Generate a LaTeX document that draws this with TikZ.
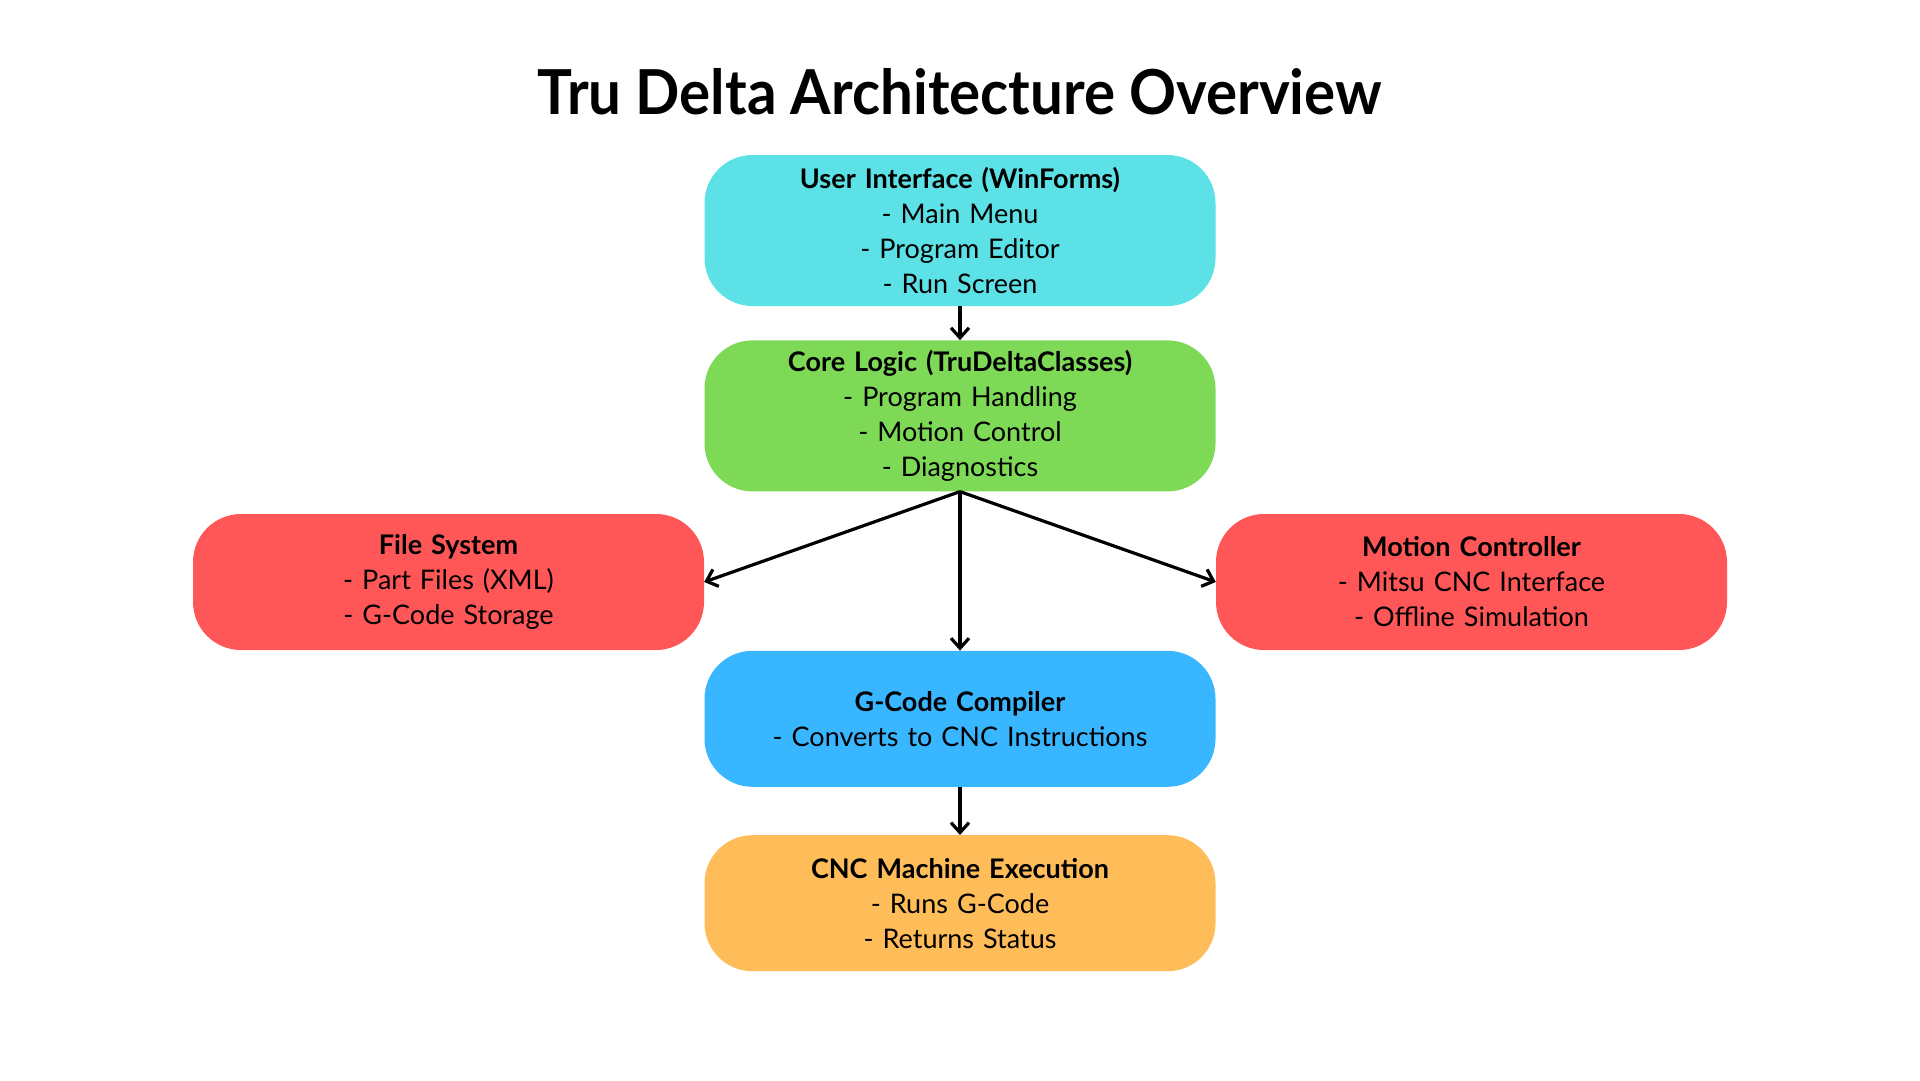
\documentclass[tikz,border=0pt]{standalone}
\usepackage{fontspec}
\setmainfont{Lato}
\usetikzlibrary{arrows.meta,positioning}
\definecolor{uicyan}{HTML}{5CE1E6}
\definecolor{coregreen}{HTML}{7ED957}
\definecolor{sysred}{HTML}{FF5757}
\definecolor{compblue}{HTML}{38B6FF}
\definecolor{execorange}{HTML}{FFBD59}

\begin{document}
\begin{tikzpicture}[x=1pt, y=-1pt]
    \tikzstyle{block} = [rectangle, rounded corners=48pt, minimum width=511pt, text width=480pt, align=center, font=\fontsize{27}{35}\selectfont, inner sep=0pt]
    \tikzstyle{tall} = [block, minimum height=151pt]
    \tikzstyle{short} = [block, minimum height=136pt]
    \tikzstyle{line} = [draw, -{Straight Barb[length=10pt, width=18pt]}, line width=3.2pt]

    \fill [white] (0,0) rectangle (1920,1080);
    \useasboundingbox (0,0) rectangle (1920,1080);

    \node (title) at (960,92) {\scalebox{0.94}[1]{\fontsize{62}{70}\selectfont\bfseries Tru Delta Architecture Overview}};

    \node [tall, fill=uicyan] (ui) at (960,230.5) {\textbf{User Interface (WinForms)}\\- Main Menu\\- Program Editor\\- Run Screen};
    \node [tall, fill=coregreen, below=34pt of ui] (core) {\textbf{Core Logic (TruDeltaClasses)}\\- Program Handling\\- Motion Control\\- Diagnostics};
    \node [short, fill=sysred] (files) at (448.5,582) {\textbf{File System}\\- Part Files (XML)\\- G-Code Storage};
    \node [short, fill=sysred] (motion) at (1471.5,582) {\textbf{Motion Controller}\\- Mitsu CNC Interface\\- Offline Simulation};
    \node [short, fill=compblue, below=159pt of core] (gcode) {\textbf{G-Code Compiler}\\- Converts to CNC Instructions};
    \node [short, fill=execorange, below=48pt of gcode] (cnc) {\textbf{CNC Machine Execution}\\- Runs G-Code\\- Returns Status};

    \path [line] (ui) -- (core);
    \path [line] (core.south) -- (files.east);
    \path [line] (core.south) -- (motion.west);
    \path [line] (core) -- (gcode);
    \path [line] (gcode) -- (cnc);
\end{tikzpicture}
\end{document}
